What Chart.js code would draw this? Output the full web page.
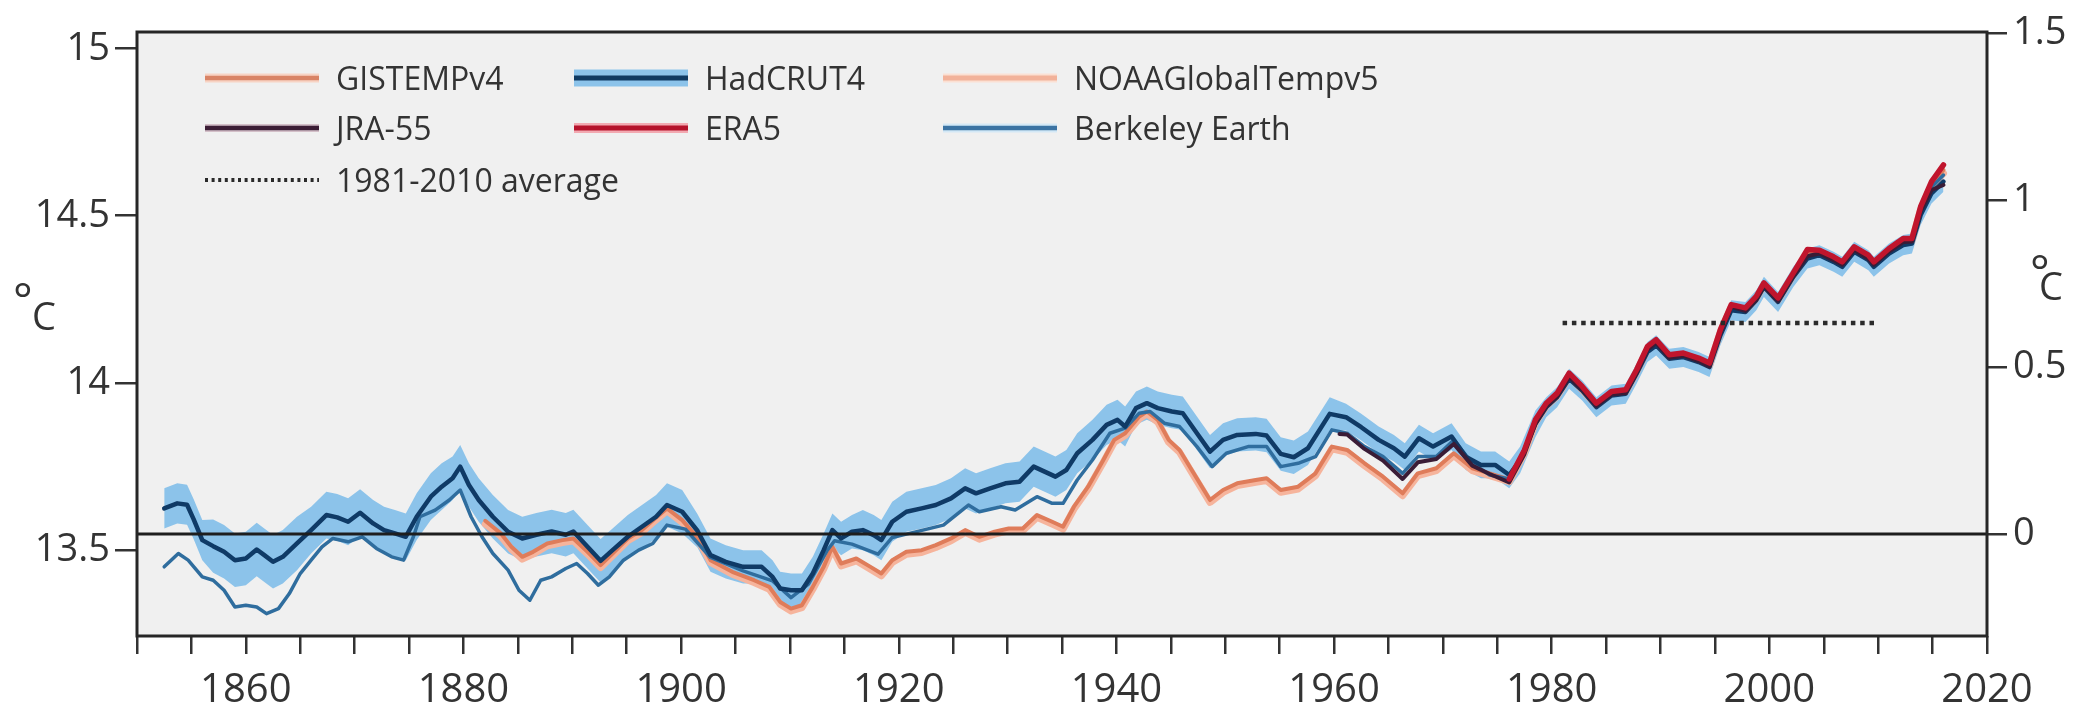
<!DOCTYPE html>
<html>
<head>
<meta charset="utf-8">
<title>Global mean temperature 1850-2017</title>
<script src="https://cdn.jsdelivr.net/npm/chart.js@4.4.1/dist/chart.umd.min.js"></script>
<style>
  html, body { margin: 0; padding: 0; background: #fff; }
  #wrap { width: 2081px; height: 704px; }
</style>
</head>
<body>
<div id="wrap"><canvas id="tempChart" width="2081" height="704"></canvas></div>
<script>
// -----------------------------------------------------------------------------
// Data — 5-year running means, anomaly (°C) vs. 1850-1900 (right-hand axis)
// -----------------------------------------------------------------------------
const hadYears = [
  1852.5,1853.7,1854.6,1855.2,1856.0,1857.0,1858.0,1859.0,1860.0,1861.0,
  1861.7,1862.5,1863.4,1864.7,1866.0,1867.4,1868.4,1869.4,1870.5,1871.7,
  1872.7,1873.7,1874.7,1875.7,1877.0,1878.0,1879.0,1879.7,1880.5,1881.4,
  1882.7,1884.1,1885.4,1886.7,1888.1,1889.4,1890.1,1891.4,1892.6,1893.7,
  1895.1,1896.4,1897.7,1898.7,1900.1,1901.5,1902.7,1904.1,1905.7,1907.4,
  1908.4,1909.1,1910.1,1911.1,1912.1,1913.1,1913.9,1914.7,1915.7,1916.7,
  1917.7,1918.4,1919.4,1920.7,1922.1,1923.4,1924.8,1926.1,1927.1,1928.4,
  1929.8,1931.1,1932.4,1933.4,1934.4,1935.4,1936.4,1937.8,1939.1,1940.1,
  1940.8,1941.8,1942.8,1943.8,1945.1,1946.1,1947.4,1948.6,1949.8,1951.1,
  1952.8,1953.8,1955.1,1956.3,1957.6,1959.6,1961.1,1962.5,1964.1,1965.5,
  1966.5,1967.8,1969.1,1970.8,1972.1,1973.5,1974.8,1976.1,1977.1,1978.5,
  1979.5,1980.5,1981.6,1982.8,1984.1,1985.5,1986.8,1987.8,1988.8,1989.6,
  1990.8,1992.1,1993.5,1994.5,1995.5,1996.5,1997.8,1998.8,1999.5,2000.8,
  2002.2,2003.5,2004.6,2005.9,2006.7,2007.8,2009.1,2009.6,2011.0,2012.3,
  2013.1,2013.9,2014.9,2016.0
];
const hadAnom = [
  0.077,0.092,0.088,0.045,-0.018,-0.036,-0.053,-0.078,-0.073,-0.046,
  -0.063,-0.083,-0.068,-0.028,0.012,0.057,0.050,0.037,0.064,0.032,
  0.012,0.002,-0.008,0.052,0.112,0.142,0.167,0.202,0.147,0.102,
  0.052,0.007,-0.013,-0.002,0.008,-0.002,0.008,-0.038,-0.080,-0.048,
  -0.008,0.022,0.052,0.087,0.067,0.010,-0.063,-0.083,-0.098,-0.098,
  -0.128,-0.163,-0.168,-0.168,-0.118,-0.048,0.012,-0.013,0.007,0.012,
  -0.003,-0.018,0.037,0.067,0.077,0.087,0.107,0.137,0.122,0.137,
  0.152,0.157,0.202,0.187,0.172,0.192,0.242,0.282,0.327,0.342,
  0.322,0.377,0.392,0.377,0.367,0.362,0.302,0.247,0.282,0.297,
  0.300,0.295,0.240,0.230,0.257,0.360,0.350,0.320,0.282,0.257,
  0.232,0.287,0.262,0.292,0.232,0.207,0.207,0.177,0.222,0.330,
  0.380,0.410,0.465,0.430,0.380,0.415,0.420,0.480,0.545,0.565,
  0.525,0.530,0.515,0.500,0.595,0.670,0.665,0.700,0.740,0.695,
  0.770,0.825,0.835,0.815,0.800,0.845,0.820,0.800,0.840,0.865,
  0.870,0.955,1.020,1.055
];
// HadCRUT4 uncertainty half-width
const hadUnc = [
  0.06,0.06,0.06,0.06,0.06,
  0.08,0.08,0.08,0.08,0.08,0.08,0.08,0.08,0.08,
  0.07,0.07,0.07,0.07,0.07,0.07,0.07,0.07,0.07,0.07,0.07,0.07,
  0.065,0.065,0.065,0.065,0.065,0.065,0.065,0.065,0.065,0.065,
  0.065,0.065,0.065,0.065,0.065,0.065,0.065,0.065,0.065,
  0.05,0.05,0.05,0.05,0.05,0.05,0.05,0.05,0.05,0.05,0.05,0.05,0.05,0.05,
  0.06,0.06,0.06,0.06,0.06,0.06,0.06,0.06,0.06,0.06,0.06,
  0.06,0.06,0.06,0.06,0.06,0.06,0.06,0.06,0.06,0.06,0.06,
  0.05,0.05,0.05,0.05,0.05,0.05,0.05,0.05,0.05,0.05,0.05,0.05,0.05,0.05,0.05,
  0.04,0.04,0.04,0.04,0.04,0.04,0.04,0.04,0.04,0.04,0.04,0.04,0.04,0.04,
  0.03,0.03,0.03,0.03,0.03,0.03,0.03,0.03,0.03,0.03,0.03,0.03,0.03,0.03,0.03,0.03,0.03,
  0.03,0.03,0.03,0.03,0.03,0.03,0.03,0.03,0.03,0.03,0.03,0.03,0.03,0.03,0.03,0.03,0.03
];

const berkYears = [
  1852.5,1853.8,1854.7,1856.0,1857.0,1858.0,1859.0,1860.0,1861.0,1861.9,
  1863.0,1864.0,1865.0,1866.0,1867.0,1868.0,1869.4,1870.7,1872.0,1873.4,
  1874.5,1875.4,1876.0,1877.4,1878.7,1879.7,1880.7,1881.7,1882.7,1884.1,
  1885.1,1886.1,1887.1,1888.1,1889.4,1890.4,1891.4,1892.4,1893.4,1894.7,
  1896.1,1897.4,1898.7,1900.4,1902.7,1905.7,1908.4,1910.1,1911.7,1913.4,
  1914.1,1915.7,1918.1,1919.4,1920.7,1924.1,1926.4,1927.4,1929.4,1930.7,
  1932.7,1934.1,1935.1,1936.4,1937.8,1939.4,1940.8,1942.1,1943.1,1944.4,
  1945.8,1947.4,1948.8,1950.1,1952.1,1953.8,1955.1,1956.7,1958.3,1959.8,
  1961.2,1962.8,1964.5,1966.3,1967.7,1969.4,1971.0,1972.7,1974.3,1976.1,
  1977.3,1978.5,1979.5,1980.5,1981.6,1982.8,1984.1,1985.5,1986.8,1987.8,
  1988.8,1989.6,1990.8,1992.1,1993.5,1994.5,1995.5,1996.5,1997.8,1998.8,
  1999.5,2000.8,2002.2,2003.5,2004.6,2005.9,2006.7,2007.8,2009.1,2009.6,
  2011.0,2012.3,2013.1,2013.9,2014.9,2016.0
];
const berkAnom = [
  -0.098,-0.058,-0.078,-0.128,-0.138,-0.168,-0.218,-0.213,-0.218,-0.238,
  -0.223,-0.178,-0.118,-0.078,-0.038,-0.013,-0.023,-0.008,-0.043,-0.068,
  -0.078,-0.008,0.052,0.072,0.102,0.132,0.052,-0.008,-0.058,-0.108,
  -0.168,-0.198,-0.138,-0.128,-0.103,-0.088,-0.118,-0.153,-0.128,-0.078,
  -0.048,-0.028,0.027,0.015,-0.070,-0.110,-0.140,-0.190,-0.150,-0.050,
  -0.020,-0.030,-0.060,-0.010,0.000,0.027,0.087,0.067,0.082,0.072,
  0.112,0.092,0.092,0.162,0.222,0.302,0.317,0.362,0.367,0.332,
  0.322,0.262,0.202,0.242,0.262,0.262,0.202,0.212,0.232,0.312,
  0.302,0.262,0.232,0.182,0.232,0.232,0.282,0.212,0.177,0.165,
  0.230,0.335,0.385,0.415,0.470,0.435,0.385,0.420,0.425,0.485,
  0.550,0.570,0.530,0.535,0.520,0.505,0.600,0.678,0.670,0.705,
  0.745,0.700,0.775,0.832,0.842,0.822,0.808,0.852,0.826,0.808,
  0.848,0.876,0.878,0.968,1.038,1.075
];

const gissYears = [
  1882.0,1883.4,1884.4,1885.4,1886.4,1887.7,1889.1,1890.1,1891.4,1892.6,
  1893.7,1895.1,1896.4,1897.6,1898.7,1900.1,1901.7,1902.7,1904.7,1906.7,
  1908.1,1909.1,1910.1,1911.1,1912.1,1913.1,1913.9,1914.7,1916.1,1917.4,
  1918.4,1919.4,1920.7,1922.1,1923.4,1924.8,1926.1,1927.4,1928.8,1930.1,
  1931.4,1932.7,1934.1,1935.1,1936.1,1937.4,1938.8,1939.8,1940.8,1942.1,
  1942.8,1943.8,1944.8,1945.8,1947.1,1948.6,1949.8,1951.1,1952.8,1953.8,
  1955.1,1956.7,1958.3,1959.8,1961.2,1962.8,1964.5,1966.3,1967.7,1969.4,
  1971.0,1972.7,1974.3,1976.1,1977.5,1978.5,1979.5,1980.5,1981.6,1982.8,
  1984.1,1985.5,1986.8,1987.8,1988.8,1989.6,1990.8,1992.1,1993.5,1994.5,
  1995.5,1996.5,1997.8,1998.8,1999.5,2000.8,2002.2,2003.5,2004.6,2005.9,
  2006.7,2007.8,2009.1,2009.6,2011.0,2012.3,2013.1,2013.9,2014.9,2016.0
];
const gissAnom = [
  0.040,0.003,-0.038,-0.068,-0.053,-0.028,-0.018,-0.013,-0.053,-0.093,
  -0.058,-0.013,0.012,0.047,0.077,0.042,-0.018,-0.078,-0.113,-0.138,
  -0.158,-0.203,-0.223,-0.213,-0.158,-0.098,-0.038,-0.088,-0.073,-0.098,
  -0.118,-0.078,-0.053,-0.048,-0.033,-0.013,0.012,-0.008,0.007,0.017,
  0.017,0.057,0.037,0.022,0.082,0.142,0.222,0.282,0.302,0.352,
  0.367,0.342,0.282,0.252,0.182,0.102,0.132,0.152,0.162,0.167,
  0.132,0.142,0.182,0.262,0.252,0.212,0.172,0.122,0.182,0.197,
  0.242,0.197,0.182,0.164,0.250,0.340,0.390,0.420,0.478,0.440,
  0.392,0.428,0.432,0.492,0.560,0.580,0.537,0.542,0.527,0.512,
  0.612,0.687,0.677,0.712,0.752,0.707,0.782,0.842,0.850,0.830,
  0.815,0.860,0.835,0.815,0.855,0.885,0.885,0.980,1.050,1.090
];
const noaaAnom = [
  0.030,-0.005,-0.045,-0.075,-0.060,-0.035,-0.025,-0.020,-0.060,-0.100,
  -0.065,-0.020,0.005,0.040,0.070,0.035,-0.025,-0.085,-0.120,-0.145,
  -0.165,-0.210,-0.230,-0.220,-0.165,-0.105,-0.045,-0.095,-0.080,-0.105,
  -0.125,-0.085,-0.060,-0.055,-0.040,-0.020,0.005,-0.015,0.000,0.010,
  0.010,0.050,0.030,0.015,0.075,0.135,0.215,0.275,0.295,0.345,
  0.360,0.335,0.275,0.245,0.175,0.095,0.125,0.145,0.155,0.160,
  0.125,0.135,0.175,0.255,0.245,0.205,0.165,0.115,0.175,0.190,
  0.235,0.190,0.175,0.157,0.243,0.333,0.383,0.413,0.470,0.432,
  0.385,0.420,0.425,0.485,0.552,0.572,0.530,0.535,0.520,0.505,
  0.605,0.680,0.670,0.705,0.745,0.700,0.775,0.835,0.843,0.823,
  0.808,0.853,0.828,0.808,0.848,0.878,0.878,0.972,1.042,1.080
];

const jraYears = [
  1960.5,1961.2,1962.8,1964.5,1966.3,1967.7,1969.4,1971.0,1972.7,1974.3,
  1976.1,1977.5,1978.5,1979.5,1980.5,1981.6,1982.8,1984.1,1985.5,1986.8,
  1987.8,1988.8,1989.6,1990.8,1992.1,1993.5,1994.5,1995.5,1996.5,1997.8,
  1998.8,1999.5,2000.8,2002.2,2003.5,2004.6,2005.9,2006.7,2007.8,2009.1,
  2009.6,2011.0,2012.3,2013.1,2013.9,2014.9,2016.0
];
const jraAnom = [
  0.300,0.298,0.255,0.220,0.165,0.215,0.225,0.270,0.205,0.180,
  0.155,0.240,0.330,0.382,0.412,0.470,0.432,0.384,0.418,0.422,
  0.482,0.552,0.572,0.528,0.534,0.518,0.502,0.602,0.680,0.668,
  0.702,0.742,0.698,0.772,0.832,0.840,0.820,0.806,0.850,0.824,
  0.806,0.846,0.874,0.876,0.966,1.030,1.045
];

const eraYears = [
  1976.1,1977.5,1978.5,1979.5,1980.5,1981.6,1982.8,1984.1,1985.5,1986.8,
  1987.8,1988.8,1989.6,1990.8,1992.1,1993.5,1994.5,1995.5,1996.5,1997.8,
  1998.8,1999.5,2000.8,2002.2,2003.5,2004.6,2005.9,2006.7,2007.8,2009.1,
  2009.6,2011.0,2012.3,2013.1,2013.9,2014.9,2016.0
];
const eraAnom = [
  0.165,0.252,0.342,0.392,0.422,0.482,0.442,0.392,0.427,0.432,
  0.492,0.562,0.582,0.537,0.542,0.527,0.512,0.612,0.687,0.677,
  0.712,0.752,0.707,0.782,0.852,0.850,0.830,0.815,0.860,0.835,
  0.815,0.855,0.885,0.885,0.980,1.055,1.105
];

// reference lines
const zeroYears = [1850, 2020];
const zeroVals  = [0, 0];
const avgYears  = [1981, 2010];
const avgVals   = [0.632, 0.632];

// axes
const xTickYears  = [1850,1855,1860,1865,1870,1875,1880,1885,1890,1895,1900,1905,1910,1915,
                     1920,1925,1930,1935,1940,1945,1950,1955,1960,1965,1970,1975,1980,1985,
                     1990,1995,2000,2005,2010,2015,2020];
const xLabelYears = [1860,1880,1900,1920,1940,1960,1980,2000,2020];
const absTicks    = [13.5, 14, 14.5, 15];   // left axis, °C
const anomTicks   = [0, 0.5, 1, 1.5];       // right axis, °C anomaly
const ANOM_MIN = -0.305, ANOM_MAX = 1.503;
const ABS_OFFSET = 13.547;                  // absolute = anomaly + offset

// -----------------------------------------------------------------------------
const FONT = '"Open Sans", "Liberation Sans", sans-serif';
const INK  = '#333333';

const pts = (xs, ys) => xs.map((x, i) => ({ x, y: ys[i] }));

const line = (label, data, color, width, order, extra = {}) => ({
  label, data, order,
  yAxisID: 'yA',
  borderColor: color,
  backgroundColor: color,
  borderWidth: width,
  pointRadius: 0,
  tension: 0,
  fill: false,
  borderJoinStyle: 'round',
  borderCapStyle: 'round',
  ...extra,
});

const datasets = [
  line('1981-2010 average', pts(avgYears, avgVals), '#2a2a2a', 4.5, 0,
       { borderDash: [4.5, 4.8], borderCapStyle: 'butt' }),
  line('zero', pts(zeroYears, zeroVals), '#1e1e1e', 3, 1, { borderCapStyle: 'butt' }),
  line('ERA5', pts(eraYears, eraAnom), '#c0152d', 5.5, 2),
  line('JRA-55', pts(jraYears, jraAnom), '#3a1c36', 4, 3),
  line('HadCRUT4', pts(hadYears, hadAnom), '#0f3a66', 4.5, 4),
  line('Berkeley Earth', pts(berkYears, berkAnom), '#2f6d9e', 3.5, 5),
  line('GISTEMPv4', pts(gissYears, gissAnom), '#df7c5a', 4, 6),
  line('NOAAGlobalTempv5', pts(gissYears, noaaAnom), '#f6b49c', 7, 7),
  line('HadCRUT4 upper', pts(hadYears, hadAnom.map((v, i) => v + hadUnc[i])), 'rgba(0,0,0,0)', 0, 8),
  line('HadCRUT4 lower', pts(hadYears, hadAnom.map((v, i) => v - hadUnc[i])), 'rgba(0,0,0,0)', 0, 9,
       { fill: '-1', backgroundColor: '#8cc3ea' }),
];

// legend drawn inside the plot, three columns
const legendItems = [
  { text: 'GISTEMPv4',        col: 0, row: 0, layers: [{ c: '#f7d3c4', w: 9 }, { c: '#d98466', w: 4.5 }] },
  { text: 'HadCRUT4',         col: 1, row: 0, layers: [{ c: '#8cc3ea', w: 17 }, { c: '#103a62', w: 5 }] },
  { text: 'NOAAGlobalTempv5', col: 2, row: 0, layers: [{ c: '#fbe0d3', w: 9 }, { c: '#f2b29a', w: 5 }] },
  { text: 'JRA-55',           col: 0, row: 1, layers: [{ c: '#d3bfc8', w: 8 }, { c: '#3b1d35', w: 4.5 }] },
  { text: 'ERA5',             col: 1, row: 1, layers: [{ c: '#f2a9b1', w: 10 }, { c: '#b5122b', w: 5 }] },
  { text: 'Berkeley Earth',   col: 2, row: 1, layers: [{ c: '#d3e8f6', w: 9 }, { c: '#3b73a3', w: 4.5 }] },
  { text: '1981-2010 average',col: 0, row: 2, layers: [{ c: '#2a2a2a', w: 4, dash: [3, 3.6] }] },
];
const LEG_COL_X = [68, 437, 806];
const LEG_ROW_Y = [46, 96, 148];
const LEG_LINE  = 114;
const LEG_GAP   = 131;

const framePlugin = {
  id: 'frame',
  beforeDraw(chart) {
    const { ctx, chartArea: a } = chart;
    ctx.save();
    ctx.fillStyle = '#f0f0f0';
    ctx.fillRect(a.left, a.top, a.right - a.left, a.bottom - a.top);
    ctx.restore();
  },
  afterDraw(chart) {
    const { ctx, chartArea: a } = chart;
    ctx.save();
    ctx.strokeStyle = '#262626';
    ctx.lineWidth = 3;
    ctx.setLineDash([]);
    ctx.strokeRect(a.left, a.top, a.right - a.left, a.bottom - a.top);

    // legend
    legendItems.forEach(it => {
      const x = a.left + LEG_COL_X[it.col];
      const y = a.top + LEG_ROW_Y[it.row];
      it.layers.forEach(l => {
        ctx.strokeStyle = l.c;
        ctx.lineWidth = l.w;
        ctx.setLineDash(l.dash || []);
        ctx.lineCap = 'butt';
        ctx.beginPath();
        ctx.moveTo(x, y);
        ctx.lineTo(x + LEG_LINE, y);
        ctx.stroke();
      });
      ctx.setLineDash([]);
      ctx.fillStyle = INK;
      ctx.font = `32px ${FONT}`;
      ctx.textAlign = 'left';
      ctx.textBaseline = 'alphabetic';
      ctx.fillText(it.text, x + LEG_GAP, y + 12);
    });

    // °C unit labels
    ctx.fillStyle = INK;
    ctx.textAlign = 'left';
    ctx.textBaseline = 'alphabetic';
    const yl = chart.scales.yC, yr = chart.scales.yA;
    ctx.font = `46px ${FONT}`;
    ctx.fillText('°', yl.left + 13, 316);
    ctx.fillText('°', yr.right - 51, 288);
    ctx.font = `38px ${FONT}`;
    ctx.fillText('C', yl.left + 32, 330);
    ctx.fillText('C', yr.right - 42, 300);
    ctx.restore();
  },
};

const tickGrid = len => ({
  display: true,
  drawOnChartArea: false,
  drawTicks: true,
  tickLength: len,
  color: '#333',
  lineWidth: 2.5,
});

new Chart(document.getElementById('tempChart').getContext('2d'), {
  type: 'line',
  data: { datasets },
  options: {
    responsive: false,
    animation: false,
    layout: { padding: { top: 32, left: 0, right: 0, bottom: 0 } },
    plugins: {
      legend: { display: false },
      tooltip: { enabled: false },
    },
    scales: {
      x: {
        type: 'linear',
        min: 1850,
        max: 2020,
        border: { display: false },
        grid: tickGrid(18),
        afterBuildTicks: s => { s.ticks = xTickYears.map(v => ({ value: v })); },
        afterFit: s => { s.height = 68; },
        ticks: {
          autoSkip: false,
          maxRotation: 0,
          padding: 13,
          color: INK,
          font: { family: FONT, size: 40 },
          callback: v => (xLabelYears.includes(v) ? String(v) : ''),
        },
      },
      yC: {
        type: 'linear',
        position: 'left',
        min: ANOM_MIN + ABS_OFFSET,
        max: ANOM_MAX + ABS_OFFSET,
        border: { display: false },
        grid: tickGrid(22),
        afterBuildTicks: s => { s.ticks = absTicks.map(v => ({ value: v })); },
        afterFit: s => { s.width = 137; },
        ticks: {
          padding: 5,
          color: INK,
          font: { family: FONT, size: 38 },
          callback: v => String(v),
        },
      },
      yA: {
        type: 'linear',
        position: 'right',
        min: ANOM_MIN,
        max: ANOM_MAX,
        border: { display: false },
        grid: tickGrid(20),
        afterBuildTicks: s => { s.ticks = anomTicks.map(v => ({ value: v })); },
        afterFit: s => { s.width = 94; },
        ticks: {
          padding: 6,
          color: INK,
          font: { family: FONT, size: 38 },
          callback: v => String(v),
        },
      },
    },
  },
  plugins: [framePlugin],
});
</script>
</body>
</html>
